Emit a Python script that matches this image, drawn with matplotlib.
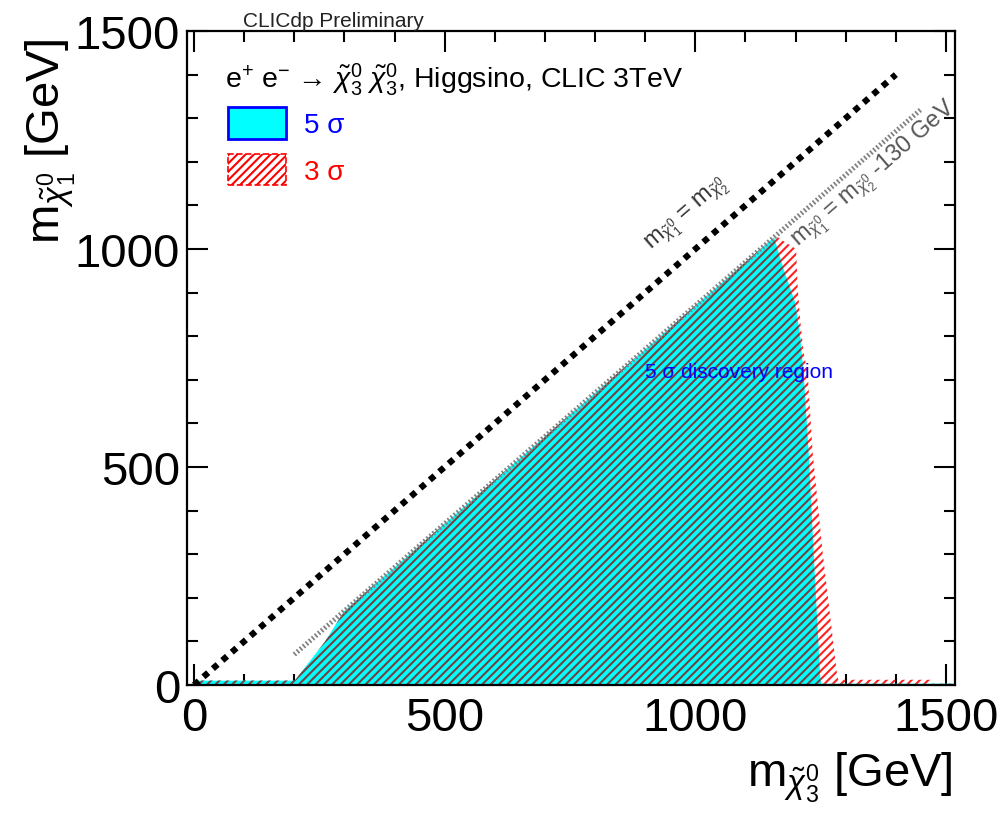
import matplotlib
matplotlib.use('Agg')
import matplotlib.pyplot as plt
from matplotlib.patches import Polygon, Patch
from matplotlib.ticker import MultipleLocator

plt.rcParams['font.family'] = ['Liberation Sans', 'DejaVu Sans']
plt.rcParams['mathtext.fontset'] = 'custom'
plt.rcParams['mathtext.rm'] = 'Liberation Sans'
plt.rcParams['mathtext.it'] = 'Liberation Sans:italic'
plt.rcParams['mathtext.bf'] = 'Liberation Sans:bold'
plt.rcParams['hatch.linewidth'] = 1.5

# 5 sigma discovery contour (m_chi3, m_chi1) in GeV
sig5_x = [0, 0, 201, 261, 300, 1157, 1176, 1199, 1209, 1216, 1226, 1236, 1249, 1251, 1518, 1518]
sig5_y = [0, 10, 10, 99, 170, 1027, 954, 878, 801, 717, 534, 304, 21, 3, 3, 0]

# 3 sigma contour
sig3_x = [0, 0, 201, 261, 300, 1160, 1201, 1204, 1209, 1216, 1224, 1234, 1254, 1283, 1285, 1470, 1470]
sig3_y = [0, 10, 10, 99, 170, 1030, 1000, 916, 839, 763, 717, 534, 304, 21, 12, 12, 0]

# kinematic lines
diag_x = [0, 1400]
diag_y = [0, 1400]
shift_x = [200, 1450]
shift_y = [70, 1320]

W, H = 1003, 829
fig = plt.figure(figsize=(W / 100, H / 100), dpi=100)
ax = fig.add_axes([187 / W, 1 - 686 / H, (955 - 187) / W, (686 - 32) / H])
ax.set_xlim(-14, 1518)
ax.set_ylim(0, 1500)

# 3 sigma hatch first, then cyan 5 sigma on top with darker hatch
ax.add_patch(Polygon(list(zip(sig3_x, sig3_y)), closed=True, facecolor='none',
                     edgecolor='#ff2020', lw=0, hatch='////', zorder=1))
ax.add_patch(Polygon(list(zip(sig5_x, sig5_y)), closed=True, facecolor='cyan',
                     edgecolor='#7a4040', lw=0, hatch='////', zorder=2))

ax.plot(diag_x, diag_y, color='black', lw=4.5, ls=(0, (1, 1)), zorder=3)
ax.plot(shift_x, shift_y, color='#808080', lw=3.6, ls=(0, (0.35, 0.45)), zorder=3)

ax.text(985, 1080, r'm$_{\tilde{\chi}^{0}_{1}}$ = m$_{\tilde{\chi}^{0}_{2}}$',
        rotation=41, rotation_mode='anchor', ha='center', va='center',
        fontsize=17, color='#333333', zorder=4)
ax.text(1358, 1172, r'm$_{\tilde{\chi}^{0}_{1}}$ = m$_{\tilde{\chi}^{0}_{2}}$ -130 GeV',
        rotation=41, rotation_mode='anchor', ha='center', va='center',
        fontsize=17, color='#555555', zorder=4)
ax.text(900, 720, '5 σ discovery region', color='blue', fontsize=15,
        ha='left', va='center', zorder=4)

for s in ax.spines.values():
    s.set_linewidth(1.6)
ax.xaxis.set_major_locator(MultipleLocator(500))
ax.xaxis.set_minor_locator(MultipleLocator(100))
ax.yaxis.set_major_locator(MultipleLocator(500))
ax.yaxis.set_minor_locator(MultipleLocator(100))
ax.tick_params(which='both', direction='in', top=True, right=True, width=1.5, labelsize=34)
ax.tick_params(which='major', length=15)
ax.tick_params(which='minor', length=8)
ax.tick_params(axis='x', pad=8)
ax.tick_params(axis='y', pad=5)

fig.text(953 / W, 1 - 787 / H, r'm$_{\tilde{\chi}^{0}_{3}}$ [GeV]', fontsize=34,
         ha='right', va='baseline')
fig.text(60 / W, 1 - 38 / H, r'm$_{\tilde{\chi}^{0}_{1}}$ [GeV]', fontsize=34,
         rotation=90, rotation_mode='anchor', ha='right', va='baseline')

fig.text(243 / W, 1 - 27 / H, 'CLICdp Preliminary', fontsize=15, color='#222222',
         ha='left', va='baseline')
fig.text(225 / W, 1 - 88 / H,
         r'e$^{+}$ e$^{-}$ → $\tilde{\chi}^{0}_{3}$ $\tilde{\chi}^{0}_{3}$, Higgsino, CLIC 3TeV',
         fontsize=20.5, ha='left', va='baseline')

handles = [Patch(facecolor='cyan', edgecolor='blue', lw=2, label='5 σ'),
           Patch(facecolor='none', edgecolor='red', hatch='////', ls='--', lw=1.2, label='3 σ')]
ax.legend(handles=handles, loc='upper left', bbox_to_anchor=(228 / W, 1 - 108 / H),
          bbox_transform=fig.transFigure, frameon=False, fontsize=20,
          handlelength=2.1, handleheight=1.37, labelspacing=0.55, handletextpad=0.65,
          borderpad=0, borderaxespad=0, labelcolor=['blue', 'red'])

fig.savefig('out.png', dpi=100)
